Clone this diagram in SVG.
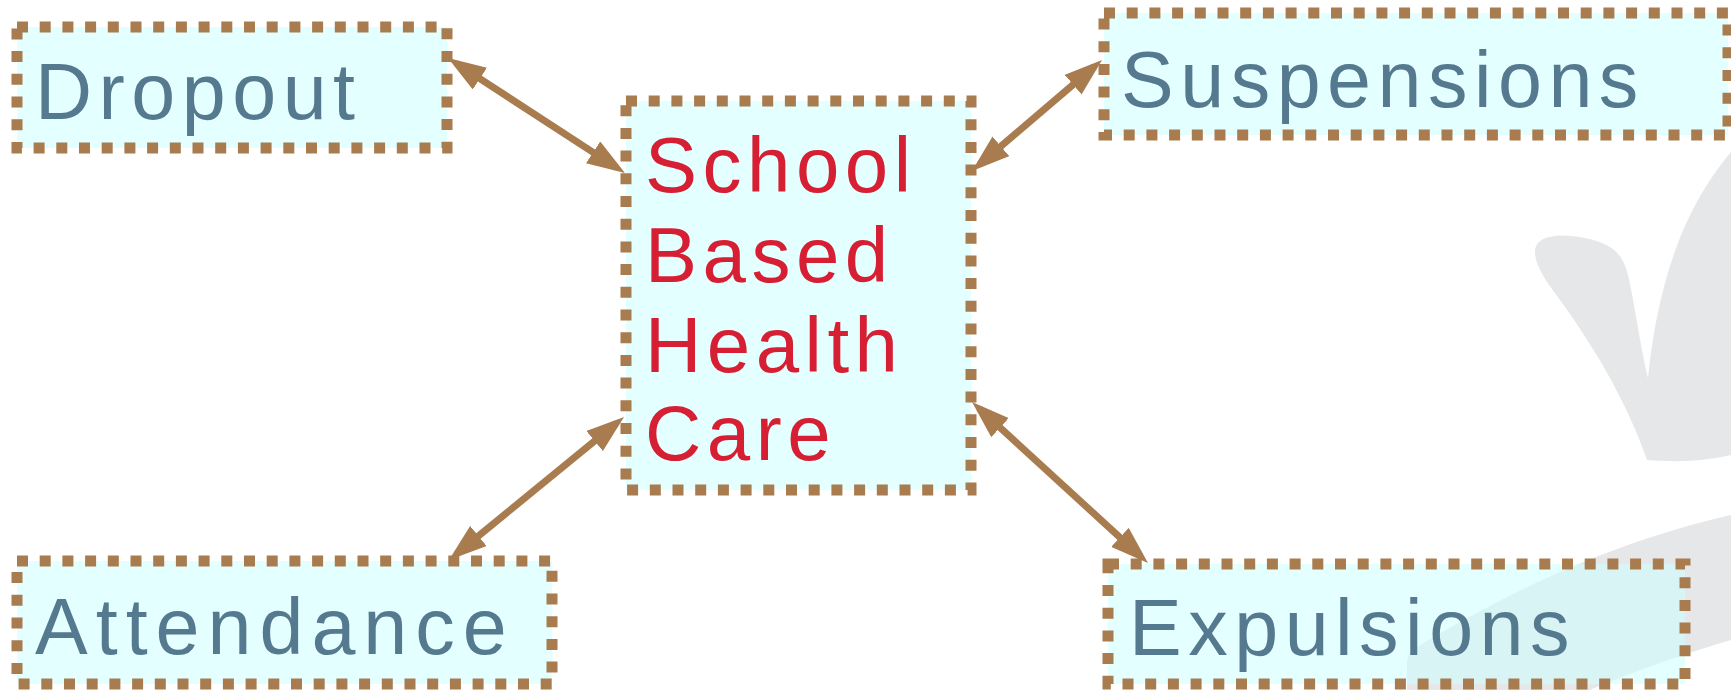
<svg xmlns="http://www.w3.org/2000/svg" width="1731" height="690" viewBox="0 0 1731 690">
  <style>
    .box { fill: rgb(207,255,255); fill-opacity: 0.56; stroke: #A87C4F; stroke-width: 11; stroke-dasharray: 11 11.7; }
    .lbl { font-family: "Liberation Sans", Arial, sans-serif; font-size: 79px; letter-spacing: 6.5px; fill: #557A8F; }
    .main { font-family: "Liberation Sans", Arial, sans-serif; font-size: 78px; letter-spacing: 5.5px; fill: #D61F33; }
    .conn { stroke: #A87C4F; stroke-width: 7; fill: none; marker-start: url(#head); marker-end: url(#head); }
    .bg { fill: #E6E7E8; }
  </style>
  <defs>
    <marker id="head" viewBox="0 0 38 26" refX="28" refY="13" markerWidth="38" markerHeight="26" markerUnits="userSpaceOnUse" orient="auto-start-reverse">
      <path d="M0,0 L38,13 L0,26 Z" fill="#A87C4F"/>
    </marker>
  </defs>
  <rect width="1731" height="690" fill="#FFFFFF"/>
  <g id="watermark">
    <path class="bg" d="M1731 152 C1695 195 1660 260 1648 378 C1640 345 1634 300 1628 275 C1622 250 1608 243 1585 238 C1560 233 1535 235 1535 252 C1535 265 1545 280 1560 300 C1600 355 1630 410 1647 460 C1680 463 1710 460 1731 455 Z"/>
    <path class="bg" d="M1407 690 L1407 662 C1407 655 1412 650 1420 645 C1500 598 1600 545 1731 515 L1731 640 C1680 655 1630 673 1590 690 Z"/>
  </g>
  <g id="connectors">
    <line class="conn" x1="456.4" y1="63.4" x2="616.6" y2="167.6"/>
    <line class="conn" x1="1094.4" y1="66.5" x2="979.6" y2="164.5"/>
    <line class="conn" x1="456.7" y1="553.7" x2="616.3" y2="423.3"/>
    <line class="conn" x1="1140.6" y1="556.3" x2="979.4" y2="408.7"/>
  </g>
  <g id="dropout">
    <rect class="box" x="17" y="27" width="430" height="121"/>
    <text class="lbl" x="35" y="119">Dropout</text>
  </g>
  <g id="suspensions">
    <rect class="box" x="1104" y="13" width="624" height="122"/>
    <text class="lbl" x="1121" y="107">Suspensions</text>
  </g>
  <g id="sbhc">
    <rect class="box" x="626" y="101" width="345" height="389"/>
    <text class="main" x="645" y="192">School</text>
    <text class="main" x="645" y="282">Based</text>
    <text class="main" x="645" y="372">Health</text>
    <text class="main" x="645" y="460">Care</text>
  </g>
  <g id="attendance">
    <rect class="box" x="17" y="561" width="535" height="123"/>
    <text class="lbl" x="35" y="654" style="letter-spacing:8px">Attendance</text>
  </g>
  <g id="expulsions">
    <rect class="box" x="1108" y="564" width="577" height="120"/>
    <text class="lbl" x="1129" y="655">Expulsions</text>
  </g>
</svg>
